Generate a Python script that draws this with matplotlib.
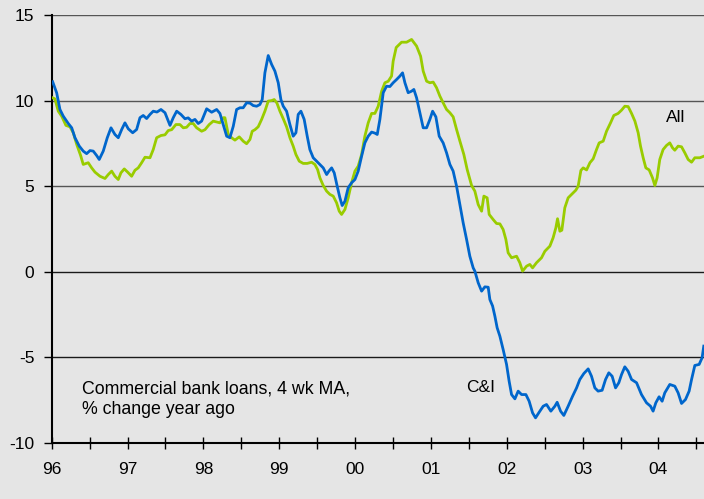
import matplotlib
matplotlib.use('Agg')
import matplotlib.pyplot as plt
import numpy as np

# C&I loans, years since 1996 and % change year ago
ci_t = [0.013, 0.066, 0.109, 0.153, 0.219, 0.264, 0.307, 0.364, 0.416, 0.461, 0.505, 0.548, 0.593, 0.627,
        0.680, 0.733, 0.782, 0.834, 0.878, 0.923, 0.966, 1.010, 1.068, 1.120, 1.164, 1.207, 1.252, 1.296,
        1.339, 1.388, 1.441, 1.494, 1.560, 1.603, 1.648, 1.704, 1.757, 1.800, 1.845, 1.889, 1.932, 1.977,
        2.043, 2.109, 2.175, 2.218, 2.262, 2.307, 2.350, 2.394, 2.438, 2.482, 2.525, 2.570, 2.614, 2.657,
        2.702, 2.745, 2.776, 2.811, 2.855, 2.900, 2.943, 2.987, 3.022, 3.053, 3.097, 3.141, 3.184, 3.220,
        3.250, 3.286, 3.329, 3.369, 3.404, 3.448, 3.493, 3.536, 3.580, 3.625, 3.655, 3.691, 3.725, 3.764,
        3.800, 3.830, 3.866, 3.909, 3.954, 3.998, 4.041, 4.086, 4.129, 4.173, 4.218, 4.261, 4.292, 4.327,
        4.371, 4.415, 4.459, 4.502, 4.547, 4.591, 4.626, 4.657, 4.700, 4.745, 4.775, 4.811, 4.854, 4.898,
        4.943, 4.986, 5.022, 5.065, 5.109, 5.161, 5.206, 5.250, 5.293, 5.338, 5.382, 5.425, 5.470, 5.513,
        5.557, 5.579, 5.623, 5.668, 5.711, 5.755, 5.777, 5.813, 5.843, 5.873, 5.909, 5.952, 5.997, 6.031,
        6.063, 6.107, 6.150, 6.195, 6.252, 6.295, 6.340, 6.379, 6.427, 6.480, 6.524, 6.581, 6.634, 6.664,
        6.709, 6.752, 6.809, 6.867, 6.920, 6.963, 7.016, 7.073, 7.117, 7.161, 7.204, 7.257, 7.302, 7.345,
        7.389, 7.434, 7.477, 7.513, 7.556, 7.600, 7.645, 7.711, 7.776, 7.842, 7.895, 7.929, 7.965, 8.008,
        8.048, 8.083, 8.149, 8.215, 8.259, 8.304, 8.356, 8.404, 8.436, 8.479, 8.536, 8.575, 8.597]
ci_v = [11.1, 10.45, 9.48, 9.09, 8.66, 8.41, 7.83, 7.34, 7.05, 6.9, 7.08, 7.05, 6.79, 6.56,
        7.05, 7.83, 8.41, 8.02, 7.83, 8.31, 8.70, 8.35, 8.12, 8.31, 9.0, 9.13, 8.95, 9.19,
        9.38, 9.33, 9.48, 9.29, 8.55, 9.0, 9.38, 9.19, 8.94, 8.99, 8.80, 8.9, 8.66, 8.8,
        9.52, 9.32, 9.48, 9.25, 8.6, 7.92, 7.83, 8.5, 9.48, 9.58, 9.58, 9.87, 9.85, 9.71,
        9.67, 9.77, 10.06, 11.62, 12.63, 12.11, 11.72, 11.04, 10.06, 9.67, 9.38, 8.6, 7.92, 8.12,
        9.19, 9.38, 8.9, 7.92, 7.14, 6.66, 6.46, 6.27, 6.07, 5.68, 5.88, 6.07, 5.78, 5.0,
        4.32, 3.87, 4.12, 4.91, 5.2, 5.39, 5.88, 6.75, 7.53, 7.92, 8.16, 8.1, 8.02, 8.9,
        10.46, 10.84, 10.82, 11.04, 11.23, 11.43, 11.62, 11.04, 10.46, 10.55, 10.65, 10.16, 9.29, 8.41,
        8.41, 8.9, 9.38, 9.05, 7.92, 7.53, 6.95, 6.27, 5.88, 5.0, 3.93, 2.86, 1.89, 0.91,
        0.23, 0.04, -0.64, -1.13, -0.88, -0.9, -1.62, -2.0, -2.59, -3.27, -3.76, -4.54, -5.41, -6.39,
        -7.17, -7.42, -6.97, -7.17, -7.17, -7.56, -8.24, -8.53, -8.2, -7.85, -7.75, -8.14, -7.85, -7.62,
        -8.14, -8.39, -7.85, -7.27, -6.78, -6.29, -5.94, -5.67, -6.1, -6.78, -6.97, -6.92, -6.29, -5.9,
        -6.1, -6.78, -6.48, -6.0, -5.55, -5.81, -6.29, -6.48, -7.17, -7.65, -7.85, -8.14, -7.65, -7.3,
        -7.56, -7.07, -6.58, -6.68, -7.07, -7.69, -7.46, -6.97, -6.29, -5.47, -5.41, -5.02, -4.34]

# all loans
all_t = [0.013, 0.043, 0.087, 0.132, 0.188, 0.241, 0.285, 0.330, 0.382, 0.416, 0.482, 0.527, 0.571, 0.637,
         0.703, 0.746, 0.791, 0.834, 0.878, 0.913, 0.957, 1.002, 1.054, 1.098, 1.141, 1.186, 1.230, 1.296,
         1.339, 1.384, 1.441, 1.494, 1.537, 1.582, 1.638, 1.691, 1.735, 1.779, 1.823, 1.866, 1.911, 1.977,
         2.021, 2.077, 2.130, 2.175, 2.218, 2.262, 2.284, 2.328, 2.372, 2.416, 2.473, 2.525, 2.570, 2.614,
         2.644, 2.680, 2.723, 2.768, 2.811, 2.855, 2.900, 2.934, 2.970, 3.009, 3.053, 3.097, 3.141, 3.184,
         3.220, 3.264, 3.316, 3.369, 3.427, 3.470, 3.506, 3.536, 3.580, 3.625, 3.668, 3.712, 3.756, 3.791,
         3.822, 3.866, 3.909, 3.954, 3.998, 4.041, 4.086, 4.129, 4.173, 4.218, 4.261, 4.305, 4.350, 4.393,
         4.437, 4.481, 4.502, 4.542, 4.613, 4.679, 4.745, 4.811, 4.864, 4.898, 4.943, 4.986, 5.030, 5.074,
         5.118, 5.161, 5.206, 5.250, 5.293, 5.338, 5.382, 5.434, 5.478, 5.536, 5.579, 5.623, 5.668, 5.698,
         5.741, 5.768, 5.821, 5.865, 5.909, 5.952, 5.988, 6.018, 6.063, 6.129, 6.172, 6.208, 6.261, 6.304,
         6.340, 6.392, 6.458, 6.502, 6.568, 6.611, 6.647, 6.669, 6.700, 6.726, 6.765, 6.809, 6.854, 6.911,
         6.941, 6.977, 7.007, 7.052, 7.096, 7.139, 7.183, 7.218, 7.271, 7.315, 7.368, 7.411, 7.468, 7.513,
         7.556, 7.600, 7.645, 7.689, 7.732, 7.763, 7.798, 7.833, 7.877, 7.921, 7.952, 7.982, 8.017, 8.061,
         8.106, 8.149, 8.185, 8.215, 8.259, 8.304, 8.347, 8.391, 8.436, 8.479, 8.545, 8.597]
all_v = [10.16, 10.1, 9.38, 9.09, 8.55, 8.47, 8.12, 7.44, 6.79, 6.27, 6.37, 6.07, 5.82, 5.58,
         5.45, 5.68, 5.88, 5.58, 5.39, 5.78, 6.01, 5.82, 5.58, 5.93, 6.07, 6.37, 6.69, 6.66,
         7.14, 7.83, 7.96, 8.0, 8.25, 8.3, 8.6, 8.6, 8.41, 8.44, 8.66, 8.66, 8.41, 8.21,
         8.3, 8.6, 8.80, 8.75, 8.7, 9.0, 9.0, 8.02, 7.83, 7.69, 7.88, 7.63, 7.48, 7.73,
         8.21, 8.3, 8.47, 8.9, 9.38, 9.97, 10.0, 10.06, 9.85, 9.38, 8.94, 8.47, 7.83, 7.34,
         6.85, 6.46, 6.33, 6.33, 6.4, 6.27, 5.97, 5.49, 5.04, 4.71, 4.52, 4.42, 4.03, 3.54,
         3.35, 3.64, 4.32, 5.2, 5.88, 6.17, 6.85, 7.92, 8.7, 9.25, 9.25, 9.67, 10.55, 11.04,
         11.13, 11.43, 12.3, 13.1, 13.41, 13.41, 13.57, 13.18, 12.59, 11.72, 11.13, 11.04, 11.08, 10.75,
         10.26, 9.87, 9.48, 9.29, 9.05, 8.31, 7.63, 6.85, 5.97, 5.04, 4.71, 3.93, 3.54, 4.42,
         4.32, 3.35, 3.05, 2.82, 2.8, 2.47, 1.89, 1.11, 0.82, 0.91, 0.53, 0.04, 0.33, 0.43,
         0.23, 0.53, 0.82, 1.2, 1.5, 1.99, 2.57, 3.1, 2.37, 2.43, 3.74, 4.32, 4.52, 4.77,
         5.0, 5.92, 6.07, 5.95, 6.37, 6.6, 7.14, 7.53, 7.63, 8.21, 8.7, 9.13, 9.25, 9.44,
         9.67, 9.65, 9.25, 8.8, 8.12, 7.34, 6.66, 6.07, 5.95, 5.49, 5.04, 5.49, 6.56, 7.14,
         7.38, 7.53, 7.24, 7.1, 7.34, 7.3, 6.95, 6.56, 6.4, 6.66, 6.66, 6.75]

year_labels = ['96', '97', '98', '99', '00', '01', '02', '03', '04']
y_ticks = [-10, -5, 0, 5, 10, 15]

plt.rcParams['font.family'] = ['Liberation Sans', 'DejaVu Sans']

bg = '#e5e5e5'
fig = plt.figure(figsize=(7.04, 4.99), dpi=100, facecolor=bg)
ax = fig.add_axes([0.0734, 0.1122, 0.9266, 0.8578], facecolor=bg)

ci_x = 1996 + np.array(ci_t)
all_x = 1996 + np.array(all_t)

# gridlines
for y in [5, 10, 15]:
    ax.axhline(y, color='#555555', lw=1.0, zorder=1)
for y in [0, -5]:
    ax.axhline(y, color='#1a1a1a', lw=1.0, zorder=1)

ax.plot(all_x, all_v, color='#99cc00', lw=2.0, zorder=3)
ax.plot(ci_x, ci_v, color='#0066cc', lw=2.0, zorder=4)

ax.set_xlim(1996, 2004.6)
ax.set_ylim(-10, 15)

for s in ['top', 'right']:
    ax.spines[s].set_visible(False)
ax.spines['left'].set_linewidth(1.5)
ax.spines['bottom'].set_linewidth(1.5)
ax.spines['left'].set_color('black')
ax.spines['bottom'].set_color('black')

ax.set_yticks(y_ticks)
ax.set_yticklabels([str(v) for v in y_ticks])
ax.tick_params(axis='y', direction='out', length=5.5, width=1.0, pad=7, labelsize=12.5)

years = 1996 + np.arange(len(year_labels))
ax.set_xticks(years)
ax.set_xticklabels(year_labels)
ax.set_xticks(np.arange(1996.5, 2004.6, 1.0), minor=True)
ax.tick_params(axis='x', which='both', direction='inout', length=9, width=1.0, pad=9, labelsize=12.5)

ax.text(2004.23, 9.0, 'All', ha='center', va='center', fontsize=12.5)
ax.text(2001.65, -6.75, 'C&I', ha='center', va='center', fontsize=12.5)
ax.text(1996.40, -7.45, 'Commercial bank loans, 4 wk MA,\n% change year ago',
        ha='left', va='center', fontsize=12.8, linespacing=1.3)

fig.savefig('out.png', dpi=100, facecolor=bg)
